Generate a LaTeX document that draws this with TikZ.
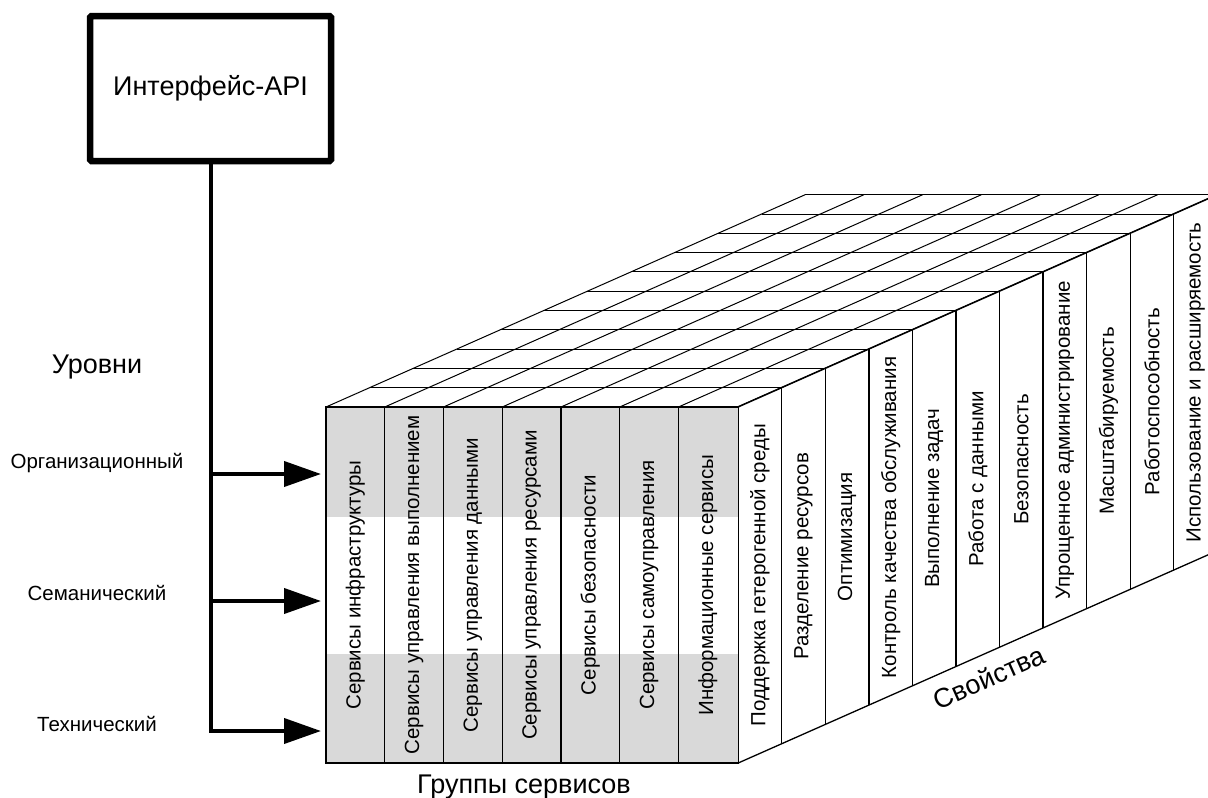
\documentclass[tikz,border=0pt]{standalone}
\usepackage{fontspec}
\setmainfont{Liberation Sans}
\usetikzlibrary{arrows.meta}
\definecolor{bandgray}{RGB}{217,217,217}
\begin{document}
\begin{tikzpicture}[x=1pt,y=-1pt,
  big/.style={font=\fontsize{27}{32}\selectfont, inner sep=0pt},
  small/.style={font=\fontsize{20.5}{24}\selectfont, inner sep=0pt},
  gridline/.style={line width=1pt},
  faceline/.style={line width=1.3pt},
  apibox/.style={draw, line width=6.5pt, minimum width=241pt, minimum height=145pt, big, rounded corners=1.5pt},
  levarrow/.style={line width=4pt, -{Triangle[length=37pt,width=25pt]}},
  trunk/.style={line width=4pt}]
\useasboundingbox (0,0) rectangle (1208,798);
\clip (0,0) rectangle (1208,798);

% --- top face grid ---
\foreach \k in {0,...,11}
  \draw[gridline] ({326+43.56*\k},{407-19.3*\k}) -- ({738.2+43.56*\k},{407-19.3*\k});
\foreach \j in {0,...,7}
  \draw[gridline] ({326+58.74*\j},407) -- ({326+58.74*\j+479.2},{407-212.3});

% --- front face ---
\fill[bandgray] (326,407) rectangle (738.2,517);
\fill[bandgray] (326,654) rectangle (738.2,763);
\foreach \j in {1,...,6}
  \draw[faceline] ({326+58.74*\j},407) -- ({326+58.74*\j},763);
\draw[faceline] (326,407) rectangle (738.2,763);

% --- right face ---
\draw[faceline] (738.2,407) -- ++(479.2,-212.3);
\draw[faceline] (738.2,763) -- ++(479.2,-212.3);
\foreach \k in {0,...,11}
  \draw[faceline] ({738.2+43.56*\k},{407-19.3*\k}) -- ({738.2+43.56*\k},{763-19.3*\k});

% --- column labels ---
\foreach \t [count=\i from 0] in {Сервисы инфраструктуры, Сервисы управления выполнением, Сервисы управления данными, Сервисы управления ресурсами, Сервисы безопасности, Сервисы самоуправления, Информационные сервисы}
  \node[small, rotate=90] (col\i) at ({326+58.74*(\i+0.5)},585) {\t};

% --- property labels ---
\foreach \t [count=\i from 0] in {Поддержка гетерогенной среды, Разделение ресурсов, Оптимизация, Контроль качества обслуживания, Выполнение задач, Работа с данными, Безопасность, Упрощенное администрирование, Масштабируемость, Работоспособность, Использование и расширяемость}
  \node[small, rotate=90] (prop\i) at ({738.2+43.56*(\i+0.5)},{585-19.3*(\i+0.5)}) {\t};

% --- axis labels ---
\node[big] (groups) at (524,787) {Группы сервисов};
\node[big, rotate=24] (props) at (989,677) {Свойства};
\node[big] (levels) at (97,367) {Уровни};
\node[small] (lorg) at (97,463) {Организационный};
\node[small] (lsem) at (97,593) {Семанический};
\node[small] (ltech) at (97,724) {Технический};

% --- API box and connectors ---
\node[apibox] (api) at (210.5,88.5) {Интерфейс-API};
\coordinate (b1) at (211,474);
\coordinate (b2) at (211,601);
\coordinate (b3) at (211,731);
\coordinate (t1) at (321,474);
\coordinate (t2) at (321,601);
\coordinate (t3) at (321,731);
\draw[trunk] (api.south -| b1) -- ([yshift=2pt]b3);
\draw[levarrow] ([xshift=-2pt]b1) -- (t1);
\draw[levarrow] ([xshift=-2pt]b2) -- (t2);
\draw[levarrow] ([xshift=-2pt]b3) -- (t3);
\end{tikzpicture}
\end{document}
